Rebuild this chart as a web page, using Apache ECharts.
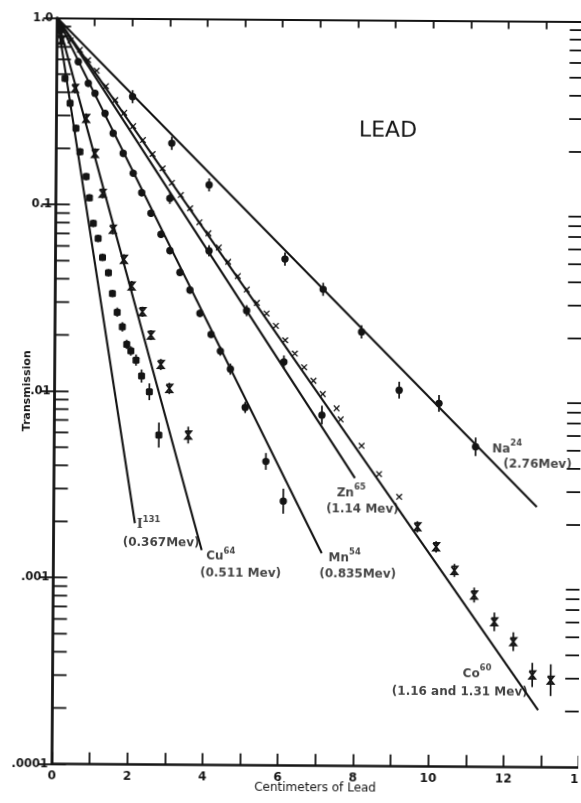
<!DOCTYPE html>
<html>
<head>
<meta charset="utf-8">
<script src="https://cdn.jsdelivr.net/npm/echarts@6/dist/echarts.min.js"></script>
<style>
  html, body { margin: 0; padding: 0; background: #fff; overflow: hidden; }
  #chart { width: 581px; height: 803px; transform: rotate(0.4deg); }
</style>
</head>
<body>
<div id="chart"></div>
<script>
// Gamma transmission through lead absorbers.
// x: absorber thickness (cm of lead), t: measured transmission,
// err: half-width of the error bar in decades (log10 units).

const na24X = [2.02, 3.07, 4.07, 6.10, 7.12, 8.15, 9.16, 10.22, 11.20];
const na24T = [0.381, 0.215, 0.129, 0.0520, 0.0359, 0.0213, 0.0104, 0.00887, 0.00521];
const na24Err = [0.035, 0.035, 0.035, 0.035, 0.035, 0.035, 0.045, 0.045, 0.05];

const zn65X = [3.03, 4.08, 5.09, 6.09, 7.11];
const zn65T = [0.109, 0.0572, 0.0274, 0.0146, 0.0076];
const zn65Err = [0.03, 0.03, 0.03, 0.035, 0.05];

const mn54X = [0.57, 0.84, 1.02, 1.29, 1.51, 1.78, 2.05, 2.28, 2.53, 2.80, 3.04, 3.31, 3.58, 3.85, 4.15, 4.40, 4.67, 5.07, 5.63, 6.10];
const mn54T = [0.584, 0.448, 0.396, 0.309, 0.242, 0.189, 0.148, 0.1165, 0.0904, 0.0698, 0.0571, 0.0437, 0.0352, 0.0264, 0.0204, 0.0166, 0.0133, 0.0083, 0.00427, 0.00262];
const mn54Err = [0.02, 0.02, 0.02, 0.02, 0.02, 0.02, 0.02, 0.02, 0.02, 0.02, 0.02, 0.02, 0.02, 0.02, 0.02, 0.025, 0.03, 0.03, 0.045, 0.067];

const co60X = [0.36, 0.61, 0.83, 1.06, 1.31, 1.56, 1.80, 2.04, 2.30, 2.56, 2.83, 3.08, 3.32, 3.57, 3.82, 4.06, 4.34, 4.59, 4.85, 5.09, 5.36, 5.62, 5.87, 6.12, 6.38, 6.63, 6.88, 7.13, 7.50, 7.61, 8.17, 8.64, 9.18, 9.67, 10.17, 10.66, 11.19, 11.73, 12.24, 12.75, 13.24];
const co60T = [0.759, 0.676, 0.596, 0.523, 0.433, 0.365, 0.312, 0.265, 0.2233, 0.188, 0.1577, 0.1319, 0.1136, 0.0965, 0.0813, 0.0710, 0.0597, 0.0500, 0.0420, 0.0356, 0.0302, 0.0265, 0.0228, 0.0191, 0.0162, 0.0137, 0.0116, 0.00985, 0.00827, 0.00722, 0.00522, 0.00369, 0.00279, 0.00193, 0.00151, 0.00113, 0.000835, 0.000601, 0.000471, 0.000313, 0.000294];
const co60Err = [0, 0, 0, 0, 0, 0, 0, 0, 0, 0, 0, 0, 0, 0, 0, 0, 0, 0, 0, 0, 0, 0, 0, 0, 0, 0, 0, 0, 0, 0, 0, 0, 0, 0.03, 0.03, 0.035, 0.04, 0.05, 0.05, 0.065, 0.085];

const cu64X = [0.12, 0.49, 0.79, 1.03, 1.24, 1.52, 1.82, 2.03, 2.32, 2.55, 2.82, 3.05, 3.56];
const cu64T = [0.76, 0.420, 0.290, 0.1887, 0.1153, 0.0740, 0.0511, 0.0368, 0.0268, 0.0201, 0.0140, 0.01043, 0.00587];
const cu64Err = [0.02, 0.027, 0.027, 0.027, 0.027, 0.027, 0.027, 0.027, 0.027, 0.027, 0.03, 0.03, 0.045];

const i131X = [0.08, 0.22, 0.36, 0.52, 0.63, 0.80, 0.89, 1.00, 1.13, 1.25, 1.41, 1.52, 1.65, 1.79, 1.91, 2.02, 2.16, 2.31, 2.52, 2.78];
const i131T = [0.86, 0.475, 0.349, 0.2565, 0.192, 0.1413, 0.109, 0.0795, 0.0661, 0.0523, 0.0432, 0.0335, 0.0266, 0.0222, 0.0179, 0.0165, 0.01475, 0.01212, 0.00999, 0.00586];
const i131Err = [0.02, 0.02, 0.02, 0.02, 0.02, 0.02, 0.02, 0.02, 0.02, 0.02, 0.02, 0.02, 0.025, 0.025, 0.025, 0.025, 0.03, 0.035, 0.045, 0.067];

// Fitted exponential attenuation lines (start and end of each ruled line)
const na24Fit = [[0, 1], [12.84, 0.00249]];
const zn65Fit = [[0, 1], [8.00, 0.0035]];
const co60Fit = [[0, 1], [12.91, 0.000203]];
const mn54Fit = [[0, 1], [7.13, 0.00138]];
const cu64Fit = [[0, 1], [3.94, 0.00142]];
const i131Fit = [[0, 1], [2.16, 0.00197]];

// Axis tick labels
const xTickLabels = { 0: '0', 2: '2', 4: '4', 6: '6', 8: '8', 10: '10', 12: '12', 14: '14' };
const yTickLabels = { '1': '1.0', '0.1': '0.1', '0.01': '.01', '0.001': '.001', '0.0001': '.0001' };

// Curve labels: anchor [x, t], nuclide, mass number, energy line
const labelNames = ['Na', 'Zn', 'Mn', 'Cu', 'I', 'Co'];
const labelMass = ['24', '65', '54', '64', '131', '60'];
const labelEnergy = ['(2.76Mev)', '(1.14 Mev)', '(0.835Mev)', '(0.511 Mev)', '(0.367Mev)', '(1.16 and 1.31 Mev)'];
const labelNameAt = [[11.64, 0.0052], [7.52, 0.00298], [7.31, 0.00134], [4.06, 0.00135], [2.21, 0.00198], [10.90, 0.000324]];
const labelEnergyAt = [[11.94, 0.00432], [7.24, 0.00245], [7.07, 0.00110], [3.90, 0.00110], [1.84, 0.00158], [9.02, 0.000257]];

const INK = '#141414';
const FONT = '"DejaVu Sans", "Liberation Sans", sans-serif';

// Minor log ticks (2..9 in each decade)
const minorTicks = [];
for (let d = -4; d < 0; d++) {
  for (let m = 2; m <= 9; m++) minorTicks.push(+(m * Math.pow(10, d)).toPrecision(3));
}

const chart = echarts.init(document.getElementById('chart'), null, { renderer: 'canvas' });

function zipPoints(xs, ts, errs) {
  return xs.map((x, i) => [x, ts[i], errs[i]]);
}

function markerSeries(name, xs, ts, errs, shape) {
  return {
    type: 'custom',
    name: name,
    coordinateSystem: 'cartesian2d',
    xAxisIndex: 0,
    yAxisIndex: 0,
    silent: true,
    z: 5,
    data: zipPoints(xs, ts, errs),
    renderItem: function (params, api) {
      const x = api.value(0), t = api.value(1), e = api.value(2);
      const c = api.coord([x, t]);
      const kids = [];
      if (e > 0) {
        const hi = api.coord([x, t * Math.pow(10, e)]);
        const lo = api.coord([x, t / Math.pow(10, e)]);
        kids.push({ type: 'line', shape: { x1: c[0], y1: hi[1], x2: c[0], y2: lo[1] },
          style: { stroke: INK, lineWidth: 1.7 } });
      }
      if (shape === 'dot') {
        kids.push({ type: 'circle', shape: { cx: c[0], cy: c[1], r: 3.7 }, style: { fill: INK } });
      } else if (shape === 'square') {
        kids.push({ type: 'rect', shape: { x: c[0] - 3.5, y: c[1] - 3.5, width: 7, height: 7, r: 1.5 }, style: { fill: INK } });
      } else if (shape === 'cross') {
        const h = 2.8;
        kids.push({ type: 'line', shape: { x1: c[0] - h, y1: c[1] - h, x2: c[0] + h, y2: c[1] + h }, style: { stroke: INK, lineWidth: 1.3 } });
        kids.push({ type: 'line', shape: { x1: c[0] + h, y1: c[1] - h, x2: c[0] - h, y2: c[1] + h }, style: { stroke: INK, lineWidth: 1.3 } });
      } else if (shape === 'hourglass') {
        const w = 3, h = 3.8;
        kids.push({ type: 'polyline', shape: { points: [[c[0] - w, c[1] - h], [c[0] + w, c[1] - h], [c[0] - w, c[1] + h], [c[0] + w, c[1] + h], [c[0] - w, c[1] - h]] },
          style: { stroke: INK, lineWidth: 1.8, fill: null } });
      }
      return { type: 'group', children: kids };
    }
  };
}

function fitLine(name, pts) {
  return {
    type: 'line', name: name, data: pts, xAxisIndex: 0, yAxisIndex: 0,
    symbol: 'none', silent: true, z: 4,
    lineStyle: { color: INK, width: 2.1 },
    animation: false
  };
}

function labelSeries() {
  const data = [];
  labelNames.forEach((n, i) => {
    const nameTag = n === 'I' ? 'r' : 'n';
    data.push({ value: labelNameAt[i], label: { formatter: '{' + nameTag + '|' + n + '}{s|' + labelMass[i] + '}' } });
    data.push({ value: labelEnergyAt[i], label: { formatter: '{n|' + labelEnergy[i] + '}' } });
  });
  return {
    type: 'scatter', data: data, symbolSize: 0, silent: true, z: 6,
    label: {
      show: true, position: 'right', distance: 0, color: INK, fontFamily: FONT,
      align: 'left', verticalAlign: 'middle',
      rich: {
        n: { fontSize: 12, fontFamily: FONT, fontWeight: 'bold', color: INK, lineHeight: 16, verticalAlign: 'bottom' },
        r: { fontSize: 12.5, fontFamily: '"DejaVu Serif", serif', fontWeight: 'bold', color: INK, lineHeight: 16, verticalAlign: 'bottom' },
        s: { fontSize: 8.5, fontFamily: FONT, fontWeight: 'bold', color: INK, lineHeight: 16, verticalAlign: 'top' }
      }
    }
  };
}

const coPlain = co60Err.map(e => e === 0);

const series = [
  fitLine('Na24 fit', na24Fit),
  fitLine('Zn65 fit', zn65Fit),
  fitLine('Co60 fit', co60Fit),
  fitLine('Mn54 fit', mn54Fit),
  fitLine('Cu64 fit', cu64Fit),
  fitLine('I131 fit', i131Fit),
  markerSeries('Na24', na24X, na24T, na24Err, 'dot'),
  markerSeries('Zn65', zn65X, zn65T, zn65Err, 'dot'),
  markerSeries('Mn54', mn54X, mn54T, mn54Err, 'dot'),
  markerSeries('Co60', co60X.filter((v, i) => coPlain[i]), co60T.filter((v, i) => coPlain[i]), co60Err.filter((v, i) => coPlain[i]), 'cross'),
  markerSeries('Co60 (thick)', co60X.filter((v, i) => !coPlain[i]), co60T.filter((v, i) => !coPlain[i]), co60Err.filter((v, i) => !coPlain[i]), 'hourglass'),
  markerSeries('Cu64', cu64X, cu64T, cu64Err, 'hourglass'),
  markerSeries('I131', i131X, i131T, i131Err, 'square'),
  labelSeries(),
  {
    // minor ticks of the logarithmic transmission scale, both sides
    type: 'custom', coordinateSystem: 'cartesian2d', silent: true, z: 3,
    data: minorTicks.map(v => [0, v]),
    renderItem: function (params, api) {
      const l = api.coord([0, api.value(1)]);
      const r = api.coord([14, api.value(1)]);
      return { type: 'group', children: [
        { type: 'line', shape: { x1: l[0], y1: l[1], x2: l[0] + 14, y2: l[1] }, style: { stroke: INK, lineWidth: 1.8 } },
        { type: 'line', shape: { x1: r[0], y1: r[1], x2: r[0] - 14, y2: r[1] }, style: { stroke: INK, lineWidth: 1.8 } }
      ] };
    }
  }
];

const option = {
  animation: false,
  backgroundColor: '#fff',
  grid: { left: 54.5, top: 19.6, width: 526.7, height: 746.1, containLabel: false, outerBoundsMode: 'none' },
  title: {
    text: 'LEAD', left: 381, top: 114, textAlign: 'center',
    textStyle: { fontFamily: FONT, fontSize: 22, fontWeight: 'normal', color: INK }
  },
  xAxis: [
    {
      type: 'value', position: 'bottom', min: 0, max: 14, interval: 1,
      name: 'Centimeters of Lead', nameLocation: 'middle', nameGap: 16, nameMoveOverlap: false,
      nameTextStyle: { fontFamily: FONT, fontSize: 12, fontWeight: 'normal', color: INK },
      axisLine: { show: true, onZero: false, lineStyle: { color: INK, width: 2.6 } },
      axisTick: { show: true, inside: true, length: 12, lineStyle: { color: INK, width: 1.8 } },
      axisLabel: { margin: 6, fontFamily: FONT, fontSize: 12, fontWeight: 'bold', color: INK,
        formatter: v => (xTickLabels[v] !== undefined ? xTickLabels[v] : '') },
      splitLine: { show: false }
    },
    {
      type: 'value', position: 'top', min: 0, max: 14, interval: 1,
      axisLine: { show: true, onZero: false, lineStyle: { color: INK, width: 2.2 } },
      axisTick: { show: true, inside: true, length: 8, lineStyle: { color: INK, width: 1.8 } },
      axisLabel: { show: false }, splitLine: { show: false }
    }
  ],
  yAxis: [
    {
      type: 'log', logBase: 10, min: 0.0001, max: 1, position: 'left',
      name: 'Transmission', nameLocation: 'middle', nameGap: 22, nameRotate: 90, nameMoveOverlap: false,
      nameTextStyle: { fontFamily: FONT, fontSize: 11, fontWeight: 'bold', color: INK },
      axisLine: { show: true, onZero: false, lineStyle: { color: INK, width: 2.8 } },
      axisTick: { show: true, inside: true, length: 14, lineStyle: { color: INK, width: 1.8 } },
      axisLabel: { margin: 4, fontFamily: FONT, fontSize: 11.5, fontWeight: 'bold', color: INK,
        formatter: v => {
          const k = String(+Number(v).toPrecision(3));
          return yTickLabels[k] !== undefined ? yTickLabels[k] : '';
        } },
      splitLine: { show: false }
    },
    {
      type: 'log', logBase: 10, min: 0.0001, max: 1, position: 'right',
      axisLine: { show: false },
      axisTick: { show: true, inside: true, length: 14, lineStyle: { color: INK, width: 1.8 } },
      axisLabel: { show: false }, splitLine: { show: false }
    }
  ],
  series: series
};

chart.setOption(option);
</script>
</body>
</html>
